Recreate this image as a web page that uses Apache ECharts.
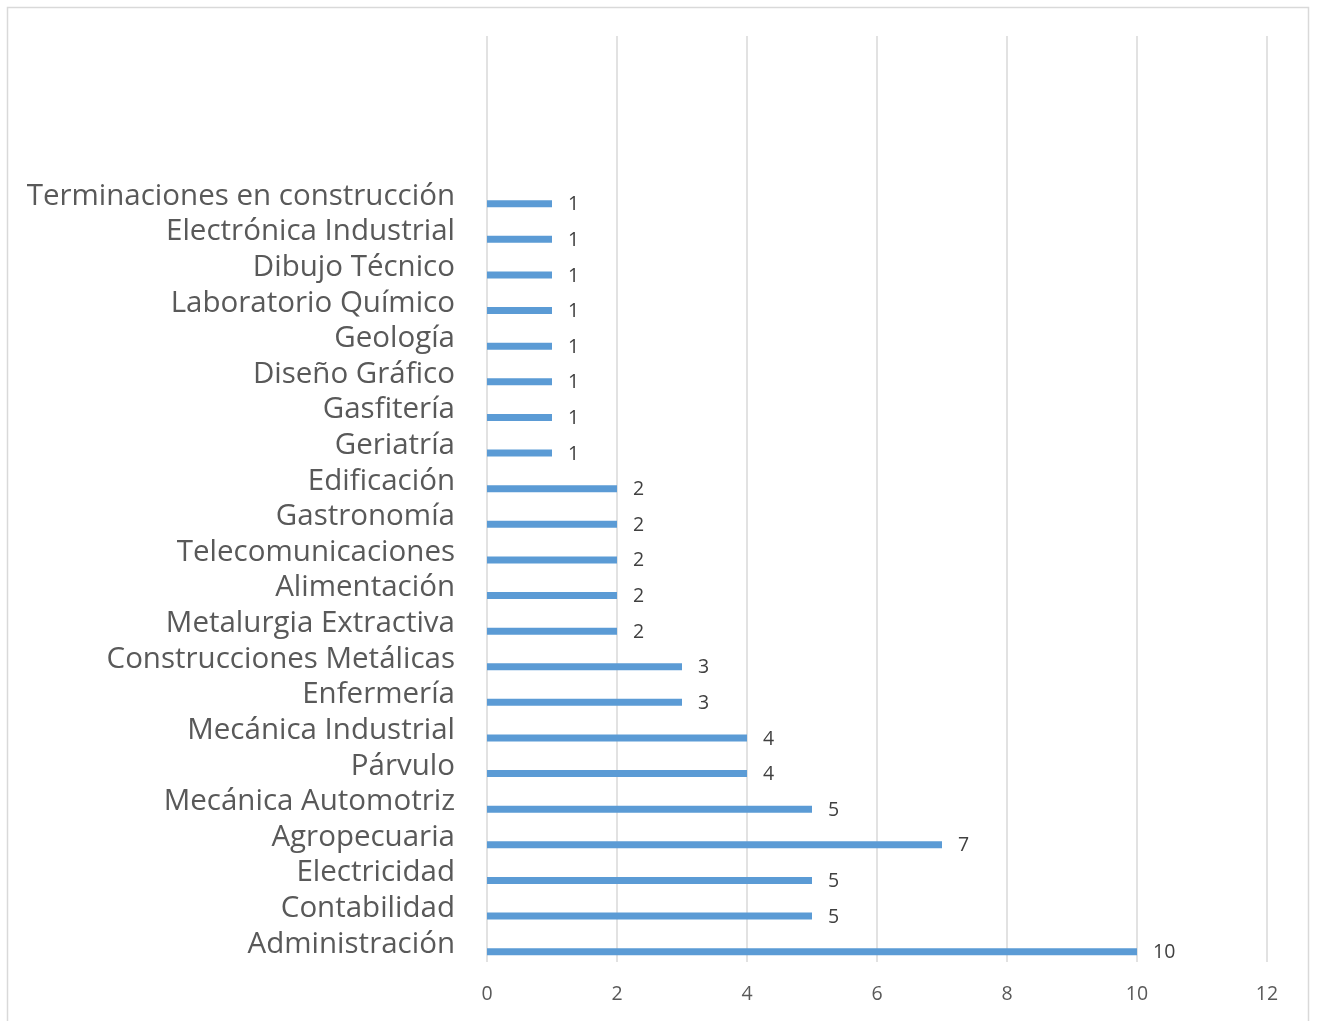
<!DOCTYPE html>
<html>
<head>
<meta charset="utf-8">
<script src="https://cdn.jsdelivr.net/npm/echarts@6/dist/echarts.min.js"></script>
<style>
html,body{margin:0;padding:0;background:#fff;}
#chart{width:1317px;height:1021px;}
</style>
</head>
<body>
<div id="chart"></div>
<script>
// Categories from bottom to top (blank slots at top as in the original)
const categories = [
  'Administración','Contabilidad','Electricidad','Agropecuaria','Mecánica Automotriz',
  'Párvulo','Mecánica Industrial','Enfermería','Construcciones Metálicas',
  'Metalurgia Extractiva','Alimentación','Telecomunicaciones','Gastronomía','Edificación',
  'Geriatría','Gasfitería','Diseño Gráfico','Geología','Laboratorio Químico',
  'Dibujo Técnico','Electrónica Industrial','Terminaciones en construcción',
  '','','',''
];
const values = [10,5,5,7,5,4,4,3,3,2,2,2,2,2,1,1,1,1,1,1,1,1];
const xTicks = [0,2,4,6,8,10,12];

const chart = echarts.init(document.getElementById('chart'));
const font = '"Open Sans", "Noto Sans", sans-serif';
chart.setOption({
  animation:false,
  backgroundColor:'#ffffff',
  graphic:[{
    type:'rect',
    shape:{x:7.5,y:7.5,width:1301,height:1030},
    style:{fill:'none',stroke:'#d9d9d9',lineWidth:1.5},
    silent:true
  }],
  grid:{left:487,right:50,top:36,bottom:59,containLabel:false},
  xAxis:{
    type:'value',min:xTicks[0],max:xTicks[xTicks.length-1],interval:2,
    axisLine:{show:false},axisTick:{show:false},
    splitLine:{show:true,lineStyle:{color:'#d9d9d9',width:1.5}},
    axisLabel:{color:'#595959',fontSize:19.5,fontFamily:font,margin:22}
  },
  yAxis:{
    type:'category',data:categories,
    axisLine:{show:false},axisTick:{show:false},
    axisLabel:{color:'#595959',fontSize:29.5,fontFamily:font,margin:32,interval:0}
  },
  series:[
    {type:'bar',name:'blank',data:[],barWidth:7,barGap:'114%',silent:true},
    {type:'bar',name:'Cantidad',data:values,barWidth:7,barGap:'114%',
     itemStyle:{color:'#5b9bd5'},
     label:{show:true,position:'right',distance:16,color:'#404040',fontSize:19.5,fontFamily:font,offset:[0,1]}}
  ]
});
</script>
</body>
</html>
